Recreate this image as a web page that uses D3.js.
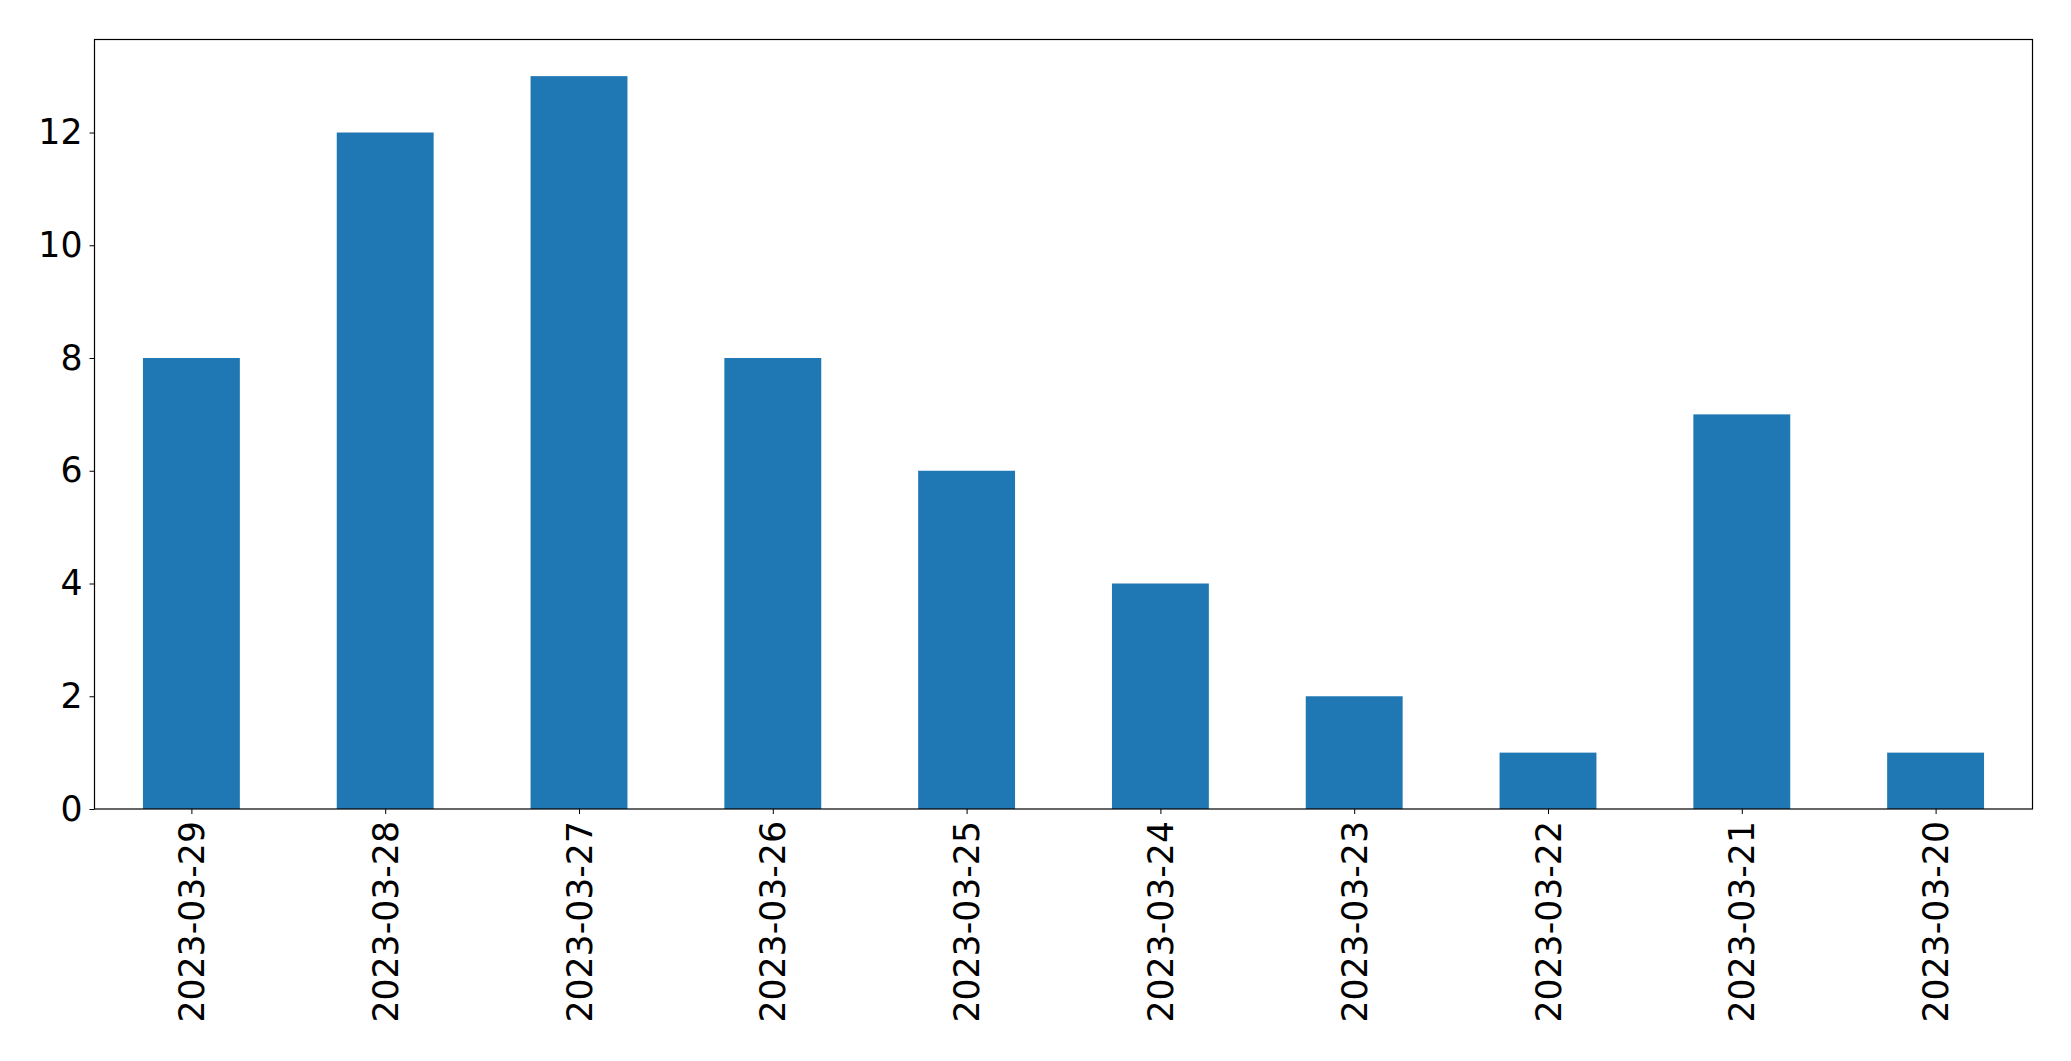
<!DOCTYPE html>
<html>
<head>
<meta charset="utf-8">
<script src="https://cdn.jsdelivr.net/npm/d3@7"></script>
<style>
  body { margin: 0; background: #fff; }
  svg { display: block; }
  text { font-family: "DejaVu Sans", sans-serif; fill: #000; }
</style>
</head>
<body>
<script>
'use strict';

const dates = ["2023-03-29", "2023-03-28", "2023-03-27", "2023-03-26", "2023-03-25",
               "2023-03-24", "2023-03-23", "2023-03-22", "2023-03-21", "2023-03-20"];
const counts = [8, 12, 13, 8, 6, 4, 2, 1, 7, 1];
const yTicks = [0, 2, 4, 6, 8, 10, 12];

const width = 2071, height = 1061;
const margin = { left: 94.5, right: 38.5, top: 39.5, bottom: 252 };
const fontSize = 34.7;

const svg = d3.select('body')
  .append('svg')
  .attr('width', width)
  .attr('height', height);

const plotW = width - margin.left - margin.right;
const plotH = height - margin.top - margin.bottom;

// category positions like matplotlib: -0.5 .. n-0.5
const xScale = d3.scaleLinear()
  .domain([-0.5, dates.length - 0.5])
  .range([0, plotW]);

const yScale = d3.scaleLinear()
  .domain([0, d3.max(counts) * 1.05])
  .range([plotH, 0]);

const g = svg.append('g')
  .attr('transform', `translate(${margin.left},${margin.top})`);

g.selectAll('.bar')
  .data(counts)
  .enter()
  .append('rect')
  .attr('class', 'bar')
  .attr('x', (d, i) => xScale(i - 0.25))
  .attr('width', (d, i) => xScale(i + 0.25) - xScale(i - 0.25))
  .attr('y', d => yScale(d))
  .attr('height', d => yScale(0) - yScale(d))
  .attr('fill', '#1f77b4');

// y axis
const yAxis = d3.axisLeft(yScale)
  .tickValues(yTicks)
  .tickSize(5)
  .tickPadding(7);
const yg = g.append('g').call(yAxis);
yg.select('.domain').remove();
yg.selectAll('text').style('font-size', fontSize + 'px');
yg.selectAll('line').attr('stroke', '#000').attr('stroke-width', 1);

// x axis
const xAxis = d3.axisBottom(xScale)
  .tickValues(d3.range(dates.length))
  .tickFormat(i => dates[i])
  .tickSize(5)
  .tickPadding(7);
const xg = g.append('g')
  .attr('transform', `translate(0,${plotH})`)
  .call(xAxis);
xg.select('.domain').remove();
xg.selectAll('line').attr('stroke', '#000').attr('stroke-width', 1);
xg.selectAll('text')
  .style('font-size', fontSize + 'px')
  .attr('text-anchor', 'end')
  .attr('transform', 'rotate(-90)')
  .attr('x', -12)
  .attr('y', 0)
  .attr('dy', '0.35em');

// frame
g.append('rect')
  .attr('x', 0)
  .attr('y', 0)
  .attr('width', plotW)
  .attr('height', plotH)
  .attr('fill', 'none')
  .attr('stroke', '#000')
  .attr('stroke-width', 1.2);
</script>
</body>
</html>
